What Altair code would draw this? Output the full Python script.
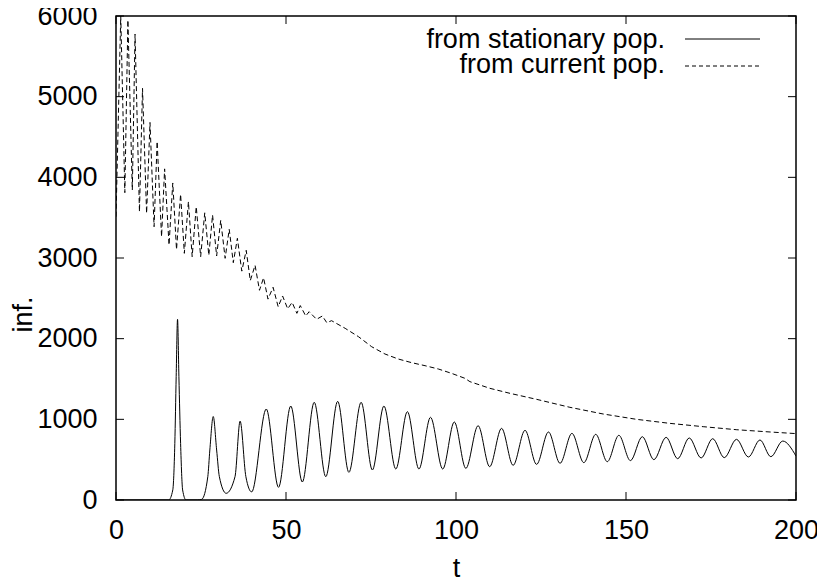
import altair as alt
import pandas as pd

# ---- data ----
t_stat = [0, 15.5, 16.7, 17.3, 17.7, 18.1, 18.5, 19.0, 19.6, 20.6, 24.0, 25.2, 27.0, 27.6, 28.6,
          29.6, 30.4, 32.4, 35.0, 36.5, 38.2, 39.9, 44.2, 47.8, 51.4, 54.8, 58.3, 61.7, 65.2,
          68.5, 72.1, 75.4, 78.8, 82.3, 85.7, 89.1, 92.5, 96.1, 99.5, 102.9, 106.5, 109.9,
          113.4, 116.8, 120.3, 123.7, 127.2, 130.6, 134.1, 137.6, 141.1, 144.5, 147.9, 151.3,
          154.8, 158.2, 161.8, 165.2, 168.6, 172.1, 175.5, 178.9, 182.5, 186.0, 189.4, 192.6,
          196.1, 200]
v_stat = [0, 0, 124, 702, 1529, 2240, 1529, 702, 124, 0, 0, 8, 289, 620, 1035,
          620, 289, 83, 289, 978, 289, 100, 1128, 157, 1165, 223, 1211, 289, 1223,
          343, 1211, 372, 1165, 384, 1095, 384, 1025, 384, 967, 392, 921, 413,
          888, 430, 864, 442, 843, 455, 826, 463, 814, 475, 802, 488,
          785, 500, 777, 512, 769, 521, 760, 525, 752, 533, 744, 537,
          731, 545]

t_curr = [0, 1.4, 2.6, 3.5, 4.8, 5.6, 6.9, 7.8, 9.0, 10.0, 11.2, 12.1, 13.4, 14.3, 15.6,
          16.7, 17.8, 19.0, 20.1, 21.3, 22.4, 23.6, 24.9, 26.1, 27.3, 28.4, 29.6, 30.8,
          32.1, 33.3, 34.5, 35.7, 37.0, 38.3, 39.5, 40.9, 42.2, 43.4, 44.7, 46.2, 47.7,
          49.0, 50.5, 51.8, 53.2, 54.2, 55.8, 56.8, 59.0, 60.7, 62.0, 63.4, 67.4, 71.3,
          75.2, 79.1, 83.0, 87.0, 90.9, 94.8, 98.7, 102.6, 104.1, 110.0, 115.9, 123.7,
          133.5, 143.3, 153.1, 162.9, 172.7, 182.6, 192.4, 200]
v_curr = [3512, 6000, 3810, 5950, 3843, 5775, 3574, 5103, 3554, 4680, 3388, 4445, 3264, 4105, 3161,
          3930, 3105, 3790, 3058, 3698, 3017, 3636, 3017, 3560, 3033, 3533, 3025, 3467,
          2996, 3356, 2942, 3244, 2837, 3095, 2720, 2910, 2600, 2755, 2490, 2637, 2396,
          2529, 2370, 2450, 2314, 2410, 2281, 2334, 2240, 2281, 2198, 2223, 2128, 2025,
          1900, 1810, 1748, 1702, 1665, 1624, 1570, 1509, 1467, 1384, 1322, 1248,
          1149, 1066, 1000, 950, 909, 871, 843, 823]

x_ticks = [0, 50, 100, 150, 200]
y_ticks = [0, 1000, 2000, 3000, 4000, 5000, 6000]
legend_labels = ["from stationary pop.", "from current pop."]

FONT = "Liberation Sans"
FS = 27
W, H = 680, 484

df_stat = pd.DataFrame({"t": t_stat, "v": v_stat})
df_curr = pd.DataFrame({"t": t_curr, "v": v_curr})
df_xt = pd.DataFrame({"t": x_ticks})
df_yt = pd.DataFrame({"v": y_ticks})

xscale = alt.Scale(domain=[0, 200], nice=False, zero=False)
yscale = alt.Scale(domain=[0, 6000], nice=False)

x_axis = alt.Axis(values=x_ticks, ticks=False, domain=False, grid=False,
                  labelFont=FONT, labelFontSize=FS, labelColor="black", labelPadding=17,
                  labelFlush=False, labelOverlap=False, format="d",
                  title="t", titleFont=FONT, titleFontSize=FS, titleFontWeight="normal",
                  titleColor="black", titleY=76, titleBaseline="alphabetic")
y_axis = alt.Axis(values=y_ticks, ticks=False, domain=False, grid=False,
                  labelFont=FONT, labelFontSize=FS, labelColor="black", labelPadding=19,
                  labelOverlap=False, format="d",
                  title="inf.", titleFont=FONT, titleFontSize=FS, titleFontWeight="normal",
                  titleColor="black", titleX=-93, titleY=298, titleAngle=270,
                  titleAlign="center", titleBaseline="middle")

X = alt.X("t:Q", scale=xscale, axis=x_axis)
Y = alt.Y("v:Q", scale=yscale, axis=y_axis)

stat = alt.Chart(df_stat).mark_line(color="black", strokeWidth=1, interpolate="monotone",
                                    clip=True).encode(x=X, y=Y)
curr = alt.Chart(df_curr).mark_line(color="black", strokeWidth=1, strokeDash=[5, 3],
                                    clip=True).encode(x=X, y=Y)

TL = 8
tick_b = alt.Chart(df_xt).mark_rule(color="black", strokeWidth=1).encode(
    x=X, y=alt.value(H), y2=alt.value(H - TL))
tick_t = alt.Chart(df_xt).mark_rule(color="black", strokeWidth=1).encode(
    x=X, y=alt.value(0), y2=alt.value(TL))
tick_l = alt.Chart(df_yt).mark_rule(color="black", strokeWidth=1).encode(
    y=Y, x=alt.value(0), x2=alt.value(TL))
tick_r = alt.Chart(df_yt).mark_rule(color="black", strokeWidth=1).encode(
    y=Y, x=alt.value(W), x2=alt.value(W - TL))

df_leg1 = pd.DataFrame({"label": [legend_labels[0]]})
df_leg2 = pd.DataFrame({"label": [legend_labels[1]]})
leg_text1 = alt.Chart(df_leg1).mark_text(align="right", baseline="middle", font=FONT,
                                         fontSize=FS, color="black").encode(
    text="label:N", x=alt.value(549), y=alt.value(24))
leg_text2 = alt.Chart(df_leg2).mark_text(align="right", baseline="middle", font=FONT,
                                         fontSize=FS, color="black").encode(
    text="label:N", x=alt.value(549), y=alt.value(49))
leg_line1 = alt.Chart(df_leg1).mark_rule(color="black", strokeWidth=1).encode(
    x=alt.value(569), x2=alt.value(644), y=alt.value(23))
leg_line2 = alt.Chart(df_leg2).mark_rule(color="black", strokeWidth=1,
                                         strokeDash=[4, 3]).encode(
    x=alt.value(569), x2=alt.value(644), y=alt.value(50))

chart = alt.layer(stat, curr, tick_b, tick_t, tick_l, tick_r,
                  leg_text1, leg_text2, leg_line1, leg_line2).properties(
    width=W, height=H,
    autosize=alt.AutoSizeParams(type="none"),
    padding={"left": 108, "top": 8, "right": 21, "bottom": 77},
    background="white",
).configure_view(stroke="black", strokeWidth=1.5)

chart.save("out.html", embed_options={"renderer": "svg", "actions": False})
